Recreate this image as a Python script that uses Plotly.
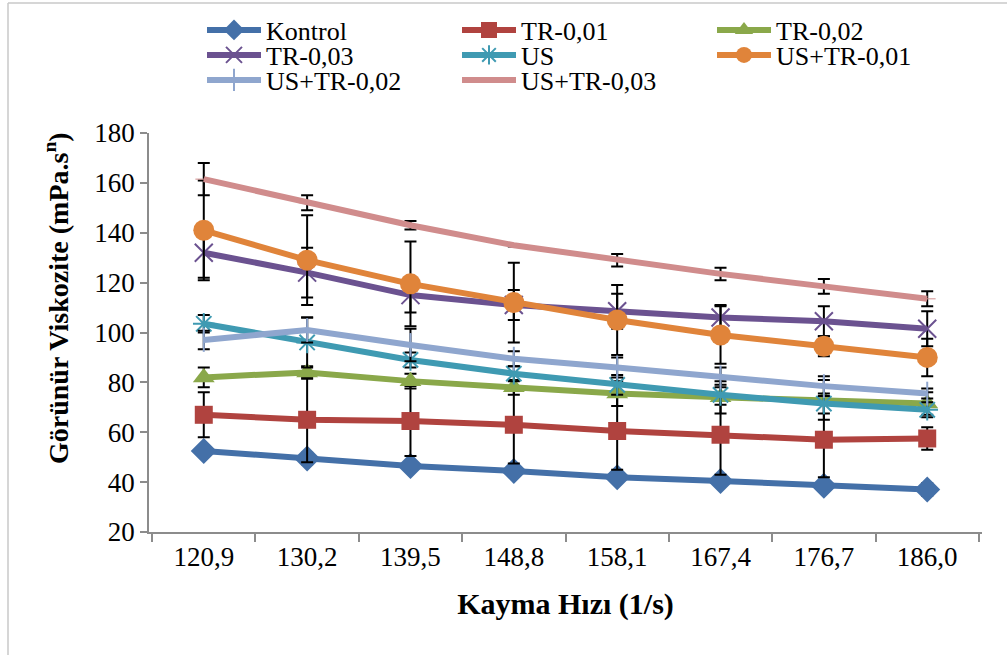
import plotly.graph_objects as go

categories = ["120,9", "130,2", "139,5", "148,8", "158,1", "167,4", "176,7", "186,0"]

kontrol = [52.5, 49.5, 46.5, 44.5, 42.0, 40.5, 38.5, 37.0]
tr001 = [67.0, 65.0, 64.5, 63.0, 60.5, 59.0, 57.0, 57.5]
tr002 = [82.0, 84.0, 80.5, 78.0, 75.5, 74.0, 73.0, 71.5]
tr003 = [132.0, 124.0, 115.0, 111.0, 108.5, 106.0, 104.5, 101.5]
us = [103.5, 96.0, 89.0, 83.5, 79.0, 75.0, 71.5, 69.0]
us_tr001 = [141.0, 129.0, 119.5, 112.0, 105.0, 99.0, 94.5, 90.0]
us_tr002 = [97.0, 101.0, 95.0, 89.5, 86.0, 82.0, 78.5, 75.5]
us_tr003 = [161.5, 152.0, 143.0, 135.0, 129.0, 123.5, 118.5, 113.5]

err_kontrol = [2.0, 2.3, 2.0, 2.0, 2.0, 2.0, 2.0, 2.5]
err_tr001 = [9.0, 17.0, 14.0, 15.5, 15.5, 16.0, 15.0, 4.5]
err_tr002 = [4.0, 2.5, 3.0, 3.0, 5.0, 6.5, 8.0, 4.5]
err_tr003 = [10.0, 10.0, 7.0, 6.0, 7.0, 5.0, 6.0, 7.0]
err_us = [3.5, 10.0, 3.0, 3.0, 4.0, 4.0, 4.0, 3.0]
err_us_tr001 = [20.0, 18.0, 17.0, 16.0, 14.0, 11.5, 4.0, 7.5]
err_us_tr002 = [3.7, 5.0, 6.5, 3.0, 4.0, 4.0, 4.0, 2.0]
err_us_tr003 = [6.5, 3.0, 1.7, 0.5, 2.5, 2.5, 3.0, 3.0]

series = [
    ("Kontrol", kontrol, err_kontrol, "#4470A8", "diamond", 20, 0, "legend"),
    ("TR-0,01", tr001, err_tr001, "#B0433F", "square", 18, 0, "legend"),
    ("TR-0,02", tr002, err_tr002, "#8AA84A", "triangle-up", 19, 0, "legend"),
    ("TR-0,03", tr003, err_tr003, "#6B5290", "x-thin-open", 18, 2, "legend2"),
    ("US", us, err_us, "#3F9AB2", "asterisk-open", 18, 2, "legend2"),
    ("US+TR-0,01", us_tr001, err_us_tr001, "#E0843A", "circle", 21, 0, "legend2"),
    ("US+TR-0,02", us_tr002, err_us_tr002, "#8FA6CE", "line-ns-open", 17, 2, "legend3"),
    ("US+TR-0,03", us_tr003, err_us_tr003, "#D08C8C", "line-ew-open", 12, 0, "legend3"),
]

SERIF = "Liberation Serif, Times New Roman, Times, serif"

fig = go.Figure()
for name, vals, errs, color, sym, size, mlw, lg in series:
    fig.add_trace(go.Scatter(
        x=categories, y=vals, name=name, mode="lines+markers", legend=lg,
        line=dict(color=color, width=6),
        marker=dict(symbol=sym, size=size, color=color,
                    line=dict(color=color, width=mlw)),
        error_y=dict(type="data", array=errs, visible=True,
                     color="black", thickness=2, width=6),
    ))

tick_font = dict(family=SERIF, size=27, color="black")
xtitle_font = dict(family=SERIF, size=30, color="black")
ytitle_font = dict(family=SERIF, size=28, color="black")

# plot area: x 149..982, y 133..532 (px)
def py(p):
    return (532 - p) / 399

def px(p):
    return (p - 149) / 833

leg_common = dict(
    orientation="h", xanchor="left", yanchor="middle",
    entrywidth=186, entrywidthmode="pixels",
    font=dict(family=SERIF, size=26, color="black"),
    itemwidth=54, bgcolor="rgba(0,0,0,0)", borderwidth=0,
)

fig.update_layout(
    width=1007, height=655,
    margin=dict(l=149, r=25, t=133, b=123, autoexpand=False),
    paper_bgcolor="white", plot_bgcolor="white",
    font=tick_font,
    showlegend=True,
    legend=dict(x=px(202), y=py(30), **leg_common),
    legend2=dict(x=px(202), y=py(55), **leg_common),
    legend3=dict(x=px(202), y=py(80), **leg_common),
    xaxis=dict(
        type="category", showgrid=False, showline=True, linecolor="#8C8C8C",
        linewidth=1.5, ticks="outside", tickson="boundaries", ticklen=8,
        tickcolor="#8C8C8C", tickwidth=1.5, tickfont=tick_font,
        title=dict(text="<b>Kayma Hızı (1/s)</b>", standoff=22, font=xtitle_font),
    ),
    yaxis=dict(
        range=[20, 180], dtick=20, showgrid=False, showline=True,
        linecolor="#8C8C8C", linewidth=1.5, ticks="outside", ticklen=7,
        tickcolor="#8C8C8C", tickwidth=1.5, tickfont=tick_font, zeroline=False,
    ),
    annotations=[
        dict(text="<b>Görünür Viskozite (mPa.s<sup>n</sup>)</b>", textangle=-90,
             xref="paper", yref="paper", x=px(56), y=py(298),
             xanchor="center", yanchor="middle", showarrow=False, font=ytitle_font),
    ],
    shapes=[
        dict(type="line", xref="paper", yref="paper",
             x0=px(8), x1=px(8), y0=py(655), y1=py(3),
             line=dict(color="#C8C8C8", width=1.5)),
        dict(type="line", xref="paper", yref="paper",
             x0=px(8), x1=px(1007), y0=py(3), y1=py(3),
             line=dict(color="#C8C8C8", width=1.5)),
    ],
)

fig.write_html("out.html", config={"displayModeBar": False},
               post_script="document.body.style.margin='0';document.body.style.padding='0';")
